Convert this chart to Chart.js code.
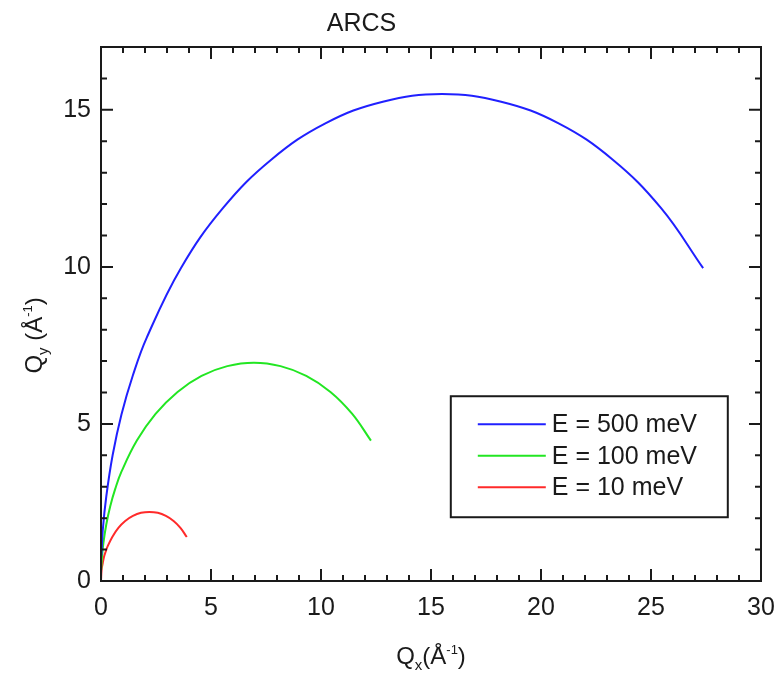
<!DOCTYPE html>
<html>
<head>
<meta charset="utf-8">
<title>ARCS</title>
<script src="https://cdn.jsdelivr.net/npm/chart.js@4.4.1/dist/chart.umd.min.js"></script>
<style>
  html, body { margin: 0; padding: 0; background: #fff; }
  #wrap { width: 778px; height: 677px; }
</style>
</head>
<body>
<div id="wrap"><canvas id="arcsChart" width="778" height="677"></canvas></div>
<script>
// Q trajectories for the three incident energies (Å^-1)
const qx500 = [0.02, 0.08, 0.24, 0.53, 0.93, 1.45, 2.08, 3.63, 5.54, 7.75, 10.2, 12.81, 15.5, 18.19, 20.8, 23.25, 25.46, 27.37];
const qy500 = [0.81, 1.62, 2.69, 4.01, 5.3, 6.55, 7.75, 9.96, 11.87, 13.42, 14.57, 15.26, 15.5, 15.26, 14.57, 13.42, 11.87, 9.96];

const qx100 = [0.01, 0.04, 0.11, 0.24, 0.42, 0.65, 0.93, 1.63, 2.48, 3.48, 4.57, 5.74, 6.95, 8.16, 9.33, 10.43, 11.42, 12.27];
const qy100 = [0.36, 0.73, 1.21, 1.8, 2.38, 2.94, 3.48, 4.47, 5.32, 6.02, 6.53, 6.84, 6.95, 6.84, 6.53, 6.02, 5.32, 4.47];

const qx10 = [0, 0.03, 0.08, 0.13, 0.21, 0.3, 0.52, 0.79, 1.1, 1.45, 1.82, 2.2, 2.58, 2.95, 3.3, 3.61, 3.9];
const qy10 = [0, 0.38, 0.57, 0.75, 0.93, 1.1, 1.41, 1.69, 1.91, 2.07, 2.17, 2.2, 2.17, 2.07, 1.91, 1.69, 1.4];

const energyLabels = ['E = 500 meV', 'E = 100 meV', 'E = 10 meV'];
const lineColors = ['#2020ff', '#22e622', '#ff2a2a'];

const xRange = [0, 30];
const yRange = [0, 17];
const majorStep = 5;
const minorStep = 1;

const FONT = '"Liberation Sans", Arial, sans-serif';
const INK = '#1a1a1a';

const toPoints = (xs, ys) => xs.map((x, i) => ({ x: x, y: ys[i] }));

// text with sub/superscript pieces, centred on x, sitting on baseline y
function drawRich(ctx, parts, x, y) {
    let total = 0;
    parts.forEach(p => {
        ctx.font = p.size + 'px ' + FONT;
        p.w = ctx.measureText(p.t).width;
        total += p.w;
    });
    let cx = x - total / 2;
    ctx.textAlign = 'left';
    ctx.textBaseline = 'alphabetic';
    parts.forEach(p => {
        ctx.font = p.size + 'px ' + FONT;
        ctx.fillText(p.t, cx, y + (p.dy || 0));
        cx += p.w;
    });
}

// frame with inward ticks on all four sides
const frameTicks = {
    id: 'frameTicks',
    afterDatasetsDraw(chart) {
        const { ctx, chartArea: ca, scales } = chart;
        ctx.save();
        ctx.strokeStyle = INK;
        ctx.lineWidth = 2;
        ctx.strokeRect(ca.left, ca.top, ca.right - ca.left, ca.bottom - ca.top);

        ctx.beginPath();
        for (let v = xRange[0]; v <= xRange[1]; v += minorStep) {
            const px = scales.x.getPixelForValue(v);
            const len = v % majorStep === 0 ? 12 : 6;
            ctx.moveTo(px, ca.bottom); ctx.lineTo(px, ca.bottom - len);
            ctx.moveTo(px, ca.top); ctx.lineTo(px, ca.top + len);
        }
        for (let v = yRange[0]; v <= yRange[1]; v += minorStep) {
            const py = scales.y.getPixelForValue(v);
            const len = v % majorStep === 0 ? 12 : 6;
            ctx.moveTo(ca.left, py); ctx.lineTo(ca.left + len, py);
            ctx.moveTo(ca.right, py); ctx.lineTo(ca.right - len, py);
        }
        ctx.stroke();
        ctx.restore();
    }
};

// boxed legend sitting inside the plot, lower right
const boxLegend = {
    id: 'boxLegend',
    afterDatasetsDraw(chart) {
        const { ctx, chartArea: ca } = chart;
        const w = ca.right - ca.left, h = ca.bottom - ca.top;
        const left = ca.left + 0.53 * w;
        const top = ca.top + 0.654 * h;
        ctx.save();
        ctx.fillStyle = '#fff';
        ctx.fillRect(left, top, 277, 121);
        ctx.strokeStyle = INK;
        ctx.lineWidth = 2;
        ctx.strokeRect(left, top, 277, 121);
        ctx.font = '25px ' + FONT;
        ctx.textAlign = 'left';
        ctx.textBaseline = 'middle';
        chart.data.datasets.forEach((ds, i) => {
            const y = top + 28 + i * 31.5;
            ctx.strokeStyle = ds.borderColor;
            ctx.lineWidth = 2;
            ctx.beginPath();
            ctx.moveTo(left + 27, y);
            ctx.lineTo(left + 95, y);
            ctx.stroke();
            ctx.fillStyle = INK;
            ctx.fillText(ds.label, left + 101, y + 1);
        });
        ctx.restore();
    }
};

// title and axis titles
const axisText = {
    id: 'axisText',
    afterDraw(chart) {
        const { ctx, chartArea: ca } = chart;
        const w = ca.right - ca.left, h = ca.bottom - ca.top;
        ctx.save();
        ctx.fillStyle = INK;

        ctx.font = '25px ' + FONT;
        ctx.textAlign = 'left';
        ctx.textBaseline = 'alphabetic';
        ctx.fillText('ARCS', ca.left + 0.342 * w, 31);

        drawRich(ctx, [
            { t: 'Q', size: 24 },
            { t: 'x', size: 15, dy: 6 },
            { t: '(Å', size: 24 },
            { t: '-1', size: 13, dy: -10 },
            { t: ')', size: 24 }
        ], (ca.left + ca.right) / 2, 664);

        ctx.translate(42, ca.top + 0.54 * h);
        ctx.rotate(-Math.PI / 2);
        drawRich(ctx, [
            { t: 'Q', size: 24 },
            { t: 'y', size: 15, dy: 6 },
            { t: ' (Å', size: 24 },
            { t: '-1', size: 13, dy: -10 },
            { t: ')', size: 24 }
        ], 0, 0);
        ctx.restore();
    }
};

const keepMajor = (scale) => {
    scale.ticks = scale.ticks.filter(t => t.value % majorStep === 0);
};

new Chart(document.getElementById('arcsChart'), {
    type: 'scatter',
    data: {
        datasets: [
            { label: energyLabels[0], data: toPoints(qx500, qy500), borderColor: lineColors[0] },
            { label: energyLabels[1], data: toPoints(qx100, qy100), borderColor: lineColors[1] },
            { label: energyLabels[2], data: toPoints(qx10, qy10), borderColor: lineColors[2] }
        ].map(ds => Object.assign(ds, {
            showLine: true,
            borderWidth: 2,
            pointRadius: 0,
            pointHoverRadius: 0,
            tension: 0.4,
            fill: false
        }))
    },
    options: {
        responsive: false,
        animation: false,
        layout: { padding: { top: 47, right: 17, left: 0, bottom: 0 } },
        plugins: {
            legend: { display: false },
            tooltip: { enabled: false },
            title: { display: false }
        },
        scales: {
            x: {
                type: 'linear',
                min: xRange[0],
                max: xRange[1],
                grid: { display: false, drawTicks: false },
                border: { display: false },
                afterBuildTicks: keepMajor,
                afterFit: (scale) => {
                    scale.height = 96;
                    scale.paddingLeft = 0;
                    scale.paddingRight = 0;
                },
                ticks: {
                    stepSize: majorStep,
                    padding: 12,
                    color: INK,
                    font: { family: FONT, size: 25 }
                }
            },
            y: {
                type: 'linear',
                min: yRange[0],
                max: yRange[1],
                grid: { display: false, drawTicks: false },
                border: { display: false },
                afterBuildTicks: keepMajor,
                afterFit: (scale) => {
                    scale.width = 101;
                    scale.paddingTop = 0;
                    scale.paddingBottom = 0;
                },
                ticks: {
                    stepSize: majorStep,
                    padding: 10,
                    color: INK,
                    font: { family: FONT, size: 25 }
                }
            }
        }
    },
    plugins: [frameTicks, boxLegend, axisText]
});
</script>
</body>
</html>
